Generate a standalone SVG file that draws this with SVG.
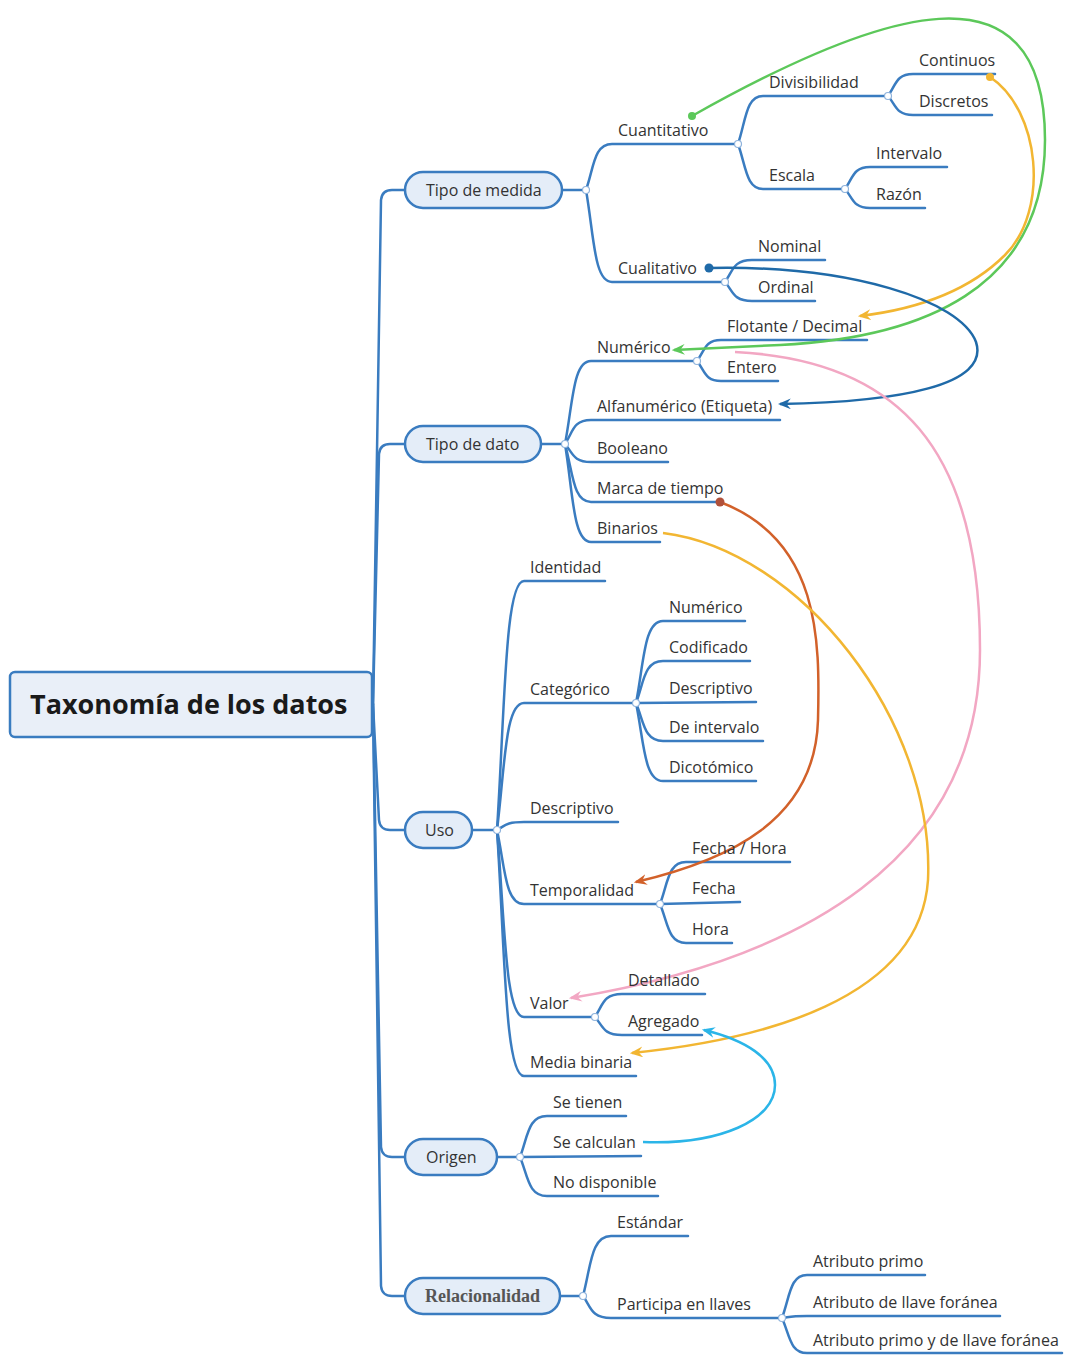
<svg xmlns="http://www.w3.org/2000/svg" width="1065" height="1355" viewBox="0 0 1065 1355">
<style>
.br{fill:none;stroke:#3a7cc0;stroke-width:2.5;stroke-linecap:round}
.t{font-family:"Open Sans","Liberation Sans",sans-serif;font-size:16px;fill:#333}
.t1{font-family:"Open Sans","Liberation Sans",sans-serif;font-size:16px;fill:#333}
.pill{fill:#e4edf8;stroke:#3a7cc0;stroke-width:2.5}
.jn{fill:#fff;stroke:#8fb3dc;stroke-width:1.2}
.lk{fill:none;stroke-width:2.5}
</style>
<defs>
<marker id="aG" viewBox="0 0 12 10" refX="10" refY="5" markerWidth="13" markerHeight="11" markerUnits="userSpaceOnUse" orient="auto"><path d="M0,0 L12,5 L0,10 L4,5 Z" fill="#5cc85a"/></marker>
<marker id="aY" viewBox="0 0 12 10" refX="10" refY="5" markerWidth="13" markerHeight="11" markerUnits="userSpaceOnUse" orient="auto"><path d="M0,0 L12,5 L0,10 L4,5 Z" fill="#f2b632"/></marker>
<marker id="aB" viewBox="0 0 12 10" refX="10" refY="5" markerWidth="13" markerHeight="11" markerUnits="userSpaceOnUse" orient="auto"><path d="M0,0 L12,5 L0,10 L4,5 Z" fill="#1f6aa8"/></marker>
<marker id="aP" viewBox="0 0 12 10" refX="10" refY="5" markerWidth="13" markerHeight="11" markerUnits="userSpaceOnUse" orient="auto"><path d="M0,0 L12,5 L0,10 L4,5 Z" fill="#f2a7c3"/></marker>
<marker id="aR" viewBox="0 0 12 10" refX="10" refY="5" markerWidth="13" markerHeight="11" markerUnits="userSpaceOnUse" orient="auto"><path d="M0,0 L12,5 L0,10 L4,5 Z" fill="#d2612a"/></marker>
<marker id="aC" viewBox="0 0 12 10" refX="10" refY="5" markerWidth="13" markerHeight="11" markerUnits="userSpaceOnUse" orient="auto"><path d="M0,0 L12,5 L0,10 L4,5 Z" fill="#2bb5e8"/></marker>
</defs>
<rect width="1065" height="1355" fill="#fff"/>

<g id="connectors">
<!-- root trunk -->
<path class="br" d="M373,704 L381,200 Q382,190 392,190 L405,190"/>
<path class="br" d="M373,704 L379,454 Q380,444 390,444 L405,444"/>
<path class="br" d="M373,704 L379,820 Q380,830 390,830 L405,830"/>
<path class="br" d="M373,704 L381,1147 Q382,1157 392,1157 L405,1157"/>
<path class="br" d="M373,704 L381,1286 Q382,1296 392,1296 L405,1296"/>
<!-- Tipo de medida -->
<path class="br" d="M562,190 L586,190"/>
<path class="br" d="M586,190 C594,167 594,144 612,144 L738,144"/>
<path class="br" d="M586,190 C594,236 594,282 612,282 L725,282"/>
<path class="br" d="M738,144 C746,120 746,96 763,96 L888,96"/>
<path class="br" d="M738,144 C746,166 746,189 763,189 L845,189"/>
<path class="br" d="M888,96 C896,85 896,74 913,74 L995,74"/>
<path class="br" d="M888,96 C896,105 896,115 913,115 L992,115"/>
<path class="br" d="M845,189 C853,178 853,167 870,167 L947,167"/>
<path class="br" d="M845,189 C853,198 853,208 870,208 L925,208"/>
<path class="br" d="M725,282 C733,271 733,260 752,260 L825,260"/>
<path class="br" d="M725,282 C733,291 733,301 752,301 L815,301"/>
<!-- Tipo de dato -->
<path class="br" d="M541,444 L565,444"/>
<path class="br" d="M565,444 C573,402 573,361 591,361 L697,361"/>
<path class="br" d="M565,444 C573,432 573,420 591,420 L780,420"/>
<path class="br" d="M565,444 C573,453 573,462 591,462 L668,462"/>
<path class="br" d="M565,444 C573,473 573,502 591,502 L720,502"/>
<path class="br" d="M565,444 C573,493 573,542 591,542 L660,542"/>
<path class="br" d="M697,361 C705,350 705,340 721,340 L867,340"/>
<path class="br" d="M697,361 C705,371 705,381 721,381 L778,381"/>
<!-- Uso -->
<path class="br" d="M472,830 L497,830"/>
<path class="br" d="M497,830 C505,705 505,581 524,581 L605,581"/>
<path class="br" d="M497,830 C505,766 505,703 524,703 L636,703"/>
<path class="br" d="M497,830 C505,826 505,822 524,822 L618,822"/>
<path class="br" d="M497,830 C505,867 505,904 524,904 L660,904"/>
<path class="br" d="M497,830 C505,923 505,1017 524,1017 L595,1017"/>
<path class="br" d="M497,830 C505,953 505,1076 524,1076 L636,1076"/>
<path class="br" d="M636,703 C644,662 644,621 663,621 L745,621"/>
<path class="br" d="M636,703 C644,682 644,661 663,661 L750,661"/>
<path class="br" d="M636,703 L756,702"/>
<path class="br" d="M636,703 C644,722 644,741 663,741 L763,741"/>
<path class="br" d="M636,703 C644,742 644,781 663,781 L756,781"/>
<path class="br" d="M660,904 C668,883 668,862 686,862 L790,862"/>
<path class="br" d="M660,904 L740,902"/>
<path class="br" d="M660,904 C668,923 668,943 686,943 L732,943"/>
<path class="br" d="M595,1017 C603,1005 603,994 622,994 L705,994"/>
<path class="br" d="M595,1017 C603,1026 603,1035 622,1035 L702,1035"/>
<!-- Origen -->
<path class="br" d="M497,1157 L520,1157"/>
<path class="br" d="M520,1157 C528,1136 528,1116 547,1116 L626,1116"/>
<path class="br" d="M520,1157 L641,1156"/>
<path class="br" d="M520,1157 C528,1176 528,1196 547,1196 L658,1196"/>
<!-- Relacionalidad -->
<path class="br" d="M560,1296 L583,1296"/>
<path class="br" d="M583,1296 C591,1266 591,1236 611,1236 L688,1236"/>
<path class="br" d="M583,1296 C591,1307 591,1318 611,1318 L782,1318"/>
<path class="br" d="M782,1318 C790,1296 790,1275 807,1275 L925,1275"/>
<path class="br" d="M782,1318 C790,1317 790,1316 807,1316 L1000,1316"/>
<path class="br" d="M782,1318 C790,1336 790,1353 807,1353 L1062,1353"/>
<!-- junctions -->
<g class="jn">
<circle cx="586" cy="190" r="3.5"/><circle cx="738" cy="144" r="3.5"/><circle cx="888" cy="96" r="3.5"/><circle cx="845" cy="189" r="3.5"/><circle cx="725" cy="282" r="3.5"/>
<circle cx="565" cy="444" r="3.5"/><circle cx="697" cy="361" r="3.5"/>
<circle cx="497" cy="830" r="3.5"/><circle cx="636" cy="703" r="3.5"/><circle cx="660" cy="904" r="3.5"/><circle cx="595" cy="1017" r="3.5"/>
<circle cx="520" cy="1157" r="3.5"/><circle cx="583" cy="1296" r="3.5"/><circle cx="782" cy="1318" r="3.5"/>
</g>
<!-- cross links -->
<path class="lk" stroke="#5cc85a" d="M692,116 C880,10 1045,-45 1045,140 C1045,290 920,338 780,345 L674,350" marker-end="url(#aG)"/>
<circle cx="692" cy="116" r="4" fill="#5cc85a"/>
<path class="lk" stroke="#f2b632" d="M990,77 C1040,110 1050,210 1005,255 C965,295 910,310 860,316" marker-end="url(#aY)"/>
<circle cx="990" cy="77" r="4" fill="#f2b632"/>
<path class="lk" stroke="#1f6aa8" d="M709,268 C850,265 960,300 976,342 C990,385 900,402 780,404" marker-end="url(#aB)"/>
<circle cx="709" cy="268" r="4.5" fill="#1f6aa8"/>
<path class="lk" stroke="#f2a7c3" d="M735,352 C900,360 980,450 980,650 C980,860 800,960 571,998" marker-end="url(#aP)"/>
<path class="lk" stroke="#d2612a" d="M720,502 C820,540 820,640 818,720 C815,820 730,860 636,882" marker-end="url(#aR)"/>
<circle cx="720" cy="502" r="4.5" fill="#b0503a"/>
<path class="lk" stroke="#f2b632" d="M663,533 C800,550 935,720 928,880 C920,1000 760,1040 632,1053" marker-end="url(#aY)"/>
<path class="lk" stroke="#2bb5e8" d="M643,1142 C720,1145 775,1120 775,1085 C775,1058 745,1040 704,1030" marker-end="url(#aC)"/>
</g>

<g id="root">
<rect x="10" y="672" width="362" height="65" rx="5" fill="#e9eff8" stroke="#3a7cc0" stroke-width="2.5"/>
<text x="30" y="714" font-family="'Open Sans','Liberation Sans',sans-serif" font-size="27" font-weight="bold" fill="#1a1a1a">Taxonomía de los datos</text>
</g>

<g id="n-tipo-medida"><rect class="pill" x="405" y="172" width="157" height="36" rx="18"/><text class="t1" x="426" y="196">Tipo de medida</text></g>
<g id="n-cuantitativo"><text class="t" x="618" y="136">Cuantitativo</text></g>
<g id="n-divisibilidad"><text class="t" x="769" y="88">Divisibilidad</text></g>
<g id="n-continuos"><text class="t" x="919" y="66">Continuos</text></g>
<g id="n-discretos"><text class="t" x="919" y="107">Discretos</text></g>
<g id="n-escala"><text class="t" x="769" y="181">Escala</text></g>
<g id="n-intervalo"><text class="t" x="876" y="159">Intervalo</text></g>
<g id="n-razon"><text class="t" x="876" y="200">Razón</text></g>
<g id="n-cualitativo"><text class="t" x="618" y="274">Cualitativo</text></g>
<g id="n-nominal"><text class="t" x="758" y="252">Nominal</text></g>
<g id="n-ordinal"><text class="t" x="758" y="293">Ordinal</text></g>

<g id="n-tipo-dato"><rect class="pill" x="405" y="426" width="136" height="36" rx="18"/><text class="t1" x="426" y="450">Tipo de dato</text></g>
<g id="n-numerico"><text class="t" x="597" y="353">Numérico</text></g>
<g id="n-flotante"><text class="t" x="727" y="332">Flotante / Decimal</text></g>
<g id="n-entero"><text class="t" x="727" y="373">Entero</text></g>
<g id="n-alfa"><text class="t" x="597" y="412">Alfanumérico (Etiqueta)</text></g>
<g id="n-booleano"><text class="t" x="597" y="454">Booleano</text></g>
<g id="n-marca"><text class="t" x="597" y="494">Marca de tiempo</text></g>
<g id="n-binarios"><text class="t" x="597" y="534">Binarios</text></g>

<g id="n-uso"><rect class="pill" x="405" y="812" width="67" height="36" rx="18"/><text class="t1" x="425" y="836">Uso</text></g>
<g id="n-identidad"><text class="t" x="530" y="573">Identidad</text></g>
<g id="n-categorico"><text class="t" x="530" y="695">Categórico</text></g>
<g id="n-cat-numerico"><text class="t" x="669" y="613">Numérico</text></g>
<g id="n-codificado"><text class="t" x="669" y="653">Codificado</text></g>
<g id="n-cat-descriptivo"><text class="t" x="669" y="694">Descriptivo</text></g>
<g id="n-de-intervalo"><text class="t" x="669" y="733">De intervalo</text></g>
<g id="n-dicotomico"><text class="t" x="669" y="773">Dicotómico</text></g>
<g id="n-descriptivo"><text class="t" x="530" y="814">Descriptivo</text></g>
<g id="n-temporalidad"><text class="t" x="530" y="896">Temporalidad</text></g>
<g id="n-fecha-hora"><text class="t" x="692" y="854">Fecha / Hora</text></g>
<g id="n-fecha"><text class="t" x="692" y="894">Fecha</text></g>
<g id="n-hora"><text class="t" x="692" y="935">Hora</text></g>
<g id="n-valor"><text class="t" x="530" y="1009">Valor</text></g>
<g id="n-detallado"><text class="t" x="628" y="986">Detallado</text></g>
<g id="n-agregado"><text class="t" x="628" y="1027">Agregado</text></g>
<g id="n-media-binaria"><text class="t" x="530" y="1068">Media binaria</text></g>

<g id="n-origen"><rect class="pill" x="405" y="1139" width="92" height="36" rx="18"/><text class="t1" x="426" y="1163">Origen</text></g>
<g id="n-se-tienen"><text class="t" x="553" y="1108">Se tienen</text></g>
<g id="n-se-calculan"><text class="t" x="553" y="1148">Se calculan</text></g>
<g id="n-no-disponible"><text class="t" x="553" y="1188">No disponible</text></g>

<g id="n-relacionalidad"><rect class="pill" x="405" y="1278" width="155" height="36" rx="18"/><text x="425" y="1302" font-family="'Liberation Serif','DejaVu Serif',serif" font-size="18" font-weight="bold" fill="#555">Relacionalidad</text></g>
<g id="n-estandar"><text class="t" x="617" y="1228">Estándar</text></g>
<g id="n-participa"><text class="t" x="617" y="1310">Participa en llaves</text></g>
<g id="n-attr-primo"><text class="t" x="813" y="1267">Atributo primo</text></g>
<g id="n-attr-foranea"><text class="t" x="813" y="1308">Atributo de llave foránea</text></g>
<g id="n-attr-ambos"><text class="t" x="813" y="1346">Atributo primo y de llave foránea</text></g>
</svg>
